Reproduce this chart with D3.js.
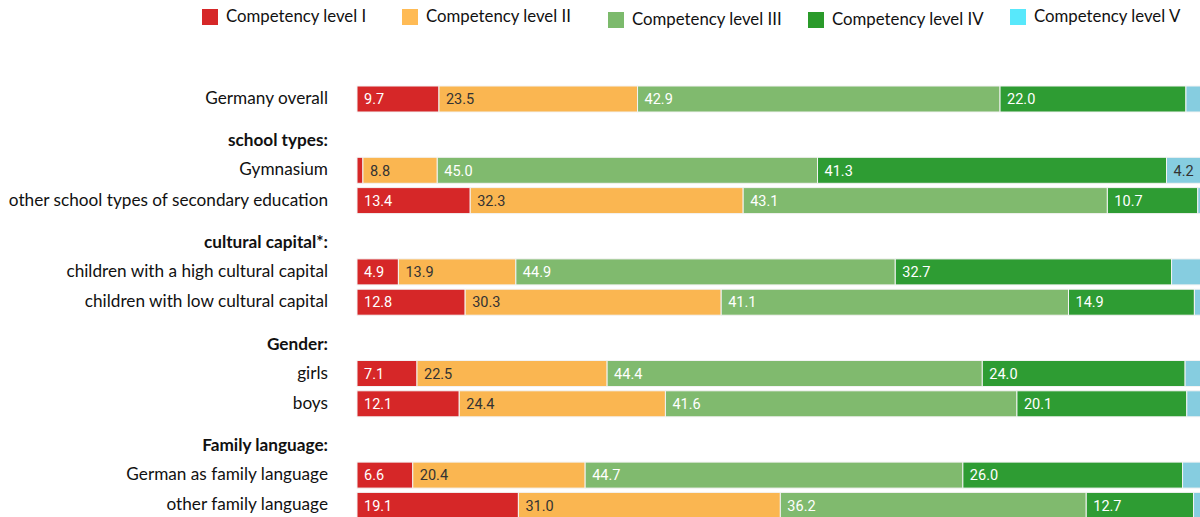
<!DOCTYPE html>
<html><head><meta charset="utf-8">
<script src="https://cdn.jsdelivr.net/npm/d3@7"></script>
<style>body{margin:0;background:#fff;overflow:hidden}</style>
</head><body>
<svg id="chart" width="1200" height="517"></svg>
<script>
const levels = ["Competency level I","Competency level II","Competency level III","Competency level IV","Competency level V"];
const barColors = ["#d62728","#fab651","#80ba6e","#2e9c33","#86cde0"];
const legendColors = ["#d62728","#ffbb55","#7cba6c","#2a9a2a","#58e8fb"];
const labelColors = ["#fff","#333","#fff","#fff","#333"];

const groups = ["", "school types:", "cultural capital*:", "Gender:", "Family language:"];
const categories = ["Germany overall","Gymnasium","other school types of secondary education","children with a high cultural capital","children with low cultural capital","girls","boys","German as family language","other family language"];
const categoryGroup = [0,1,1,2,2,3,3,4,4];
const level1 = [9.7, 0.7, 13.4, 4.9, 12.8, 7.1, 12.1, 6.6, 19.1];
const level2 = [23.5, 8.8, 32.3, 13.9, 30.3, 22.5, 24.4, 20.4, 31.0];
const level3 = [42.9, 45.0, 43.1, 44.9, 41.1, 44.4, 41.6, 44.7, 36.2];
const level4 = [22.0, 41.3, 10.7, 32.7, 14.9, 24.0, 20.1, 26.0, 12.7];
const level5 = [1.9, 4.2, 0.5, 3.6, 0.9, 2.0, 1.8, 2.3, 1.0];

const svg = d3.select("#chart");
const x = d3.scaleLinear().domain([0,100]).range([357,1202]);
const rowStep = 30.3, groupGap = 41, plotTop = 86, barH = 26;
const yRow = d3.scaleLinear().domain([0,1]).range([plotTop, plotTop+rowStep]);
const yPos = i => yRow(i) + groupGap*categoryGroup[i];

const rows = categories.map((c,i)=>({name:c, i, vals:[level1[i],level2[i],level3[i],level4[i],level5[i]]}));
const stack = d3.stack().keys([0,1,2,3,4]).value((d,k)=>d.vals[k]);
const series = stack(rows);

const leftFont = "Lato, 'Open Sans', sans-serif";

svg.append("g").selectAll("text").data(rows).join("text")
  .attr("x",328).attr("y",d=>yPos(d.i)+barH/2-1).attr("dy","0.35em")
  .attr("text-anchor","end").attr("font-family",leftFont).attr("font-size",17.2).attr("fill","#111")
  .text(d=>d.name);

const headers = groups.map((g,gi)=>({g,gi,first:categoryGroup.indexOf(gi)})).filter(d=>d.g);
svg.append("g").selectAll("text").data(headers).join("text")
  .attr("x",328).attr("y",d=>yPos(d.first)-17).attr("dy","0.35em")
  .attr("text-anchor","end").attr("font-family",leftFont).attr("font-size",17.2).attr("font-weight","bold").attr("fill","#111")
  .text(d=>d.g);

const segG = svg.append("g").selectAll("g").data(series).join("g").attr("fill",(d,k)=>barColors[k]);
segG.selectAll("rect").data(d=>d.map(p=>({p,row:p.data}))).join("rect")
  .attr("x",d=>x(d.p[0])).attr("width",d=>x(d.p[1])-x(d.p[0]))
  .attr("y",d=>yPos(d.row.i)).attr("height",barH)
  .attr("stroke","#f3f3f3").attr("stroke-width",1);

series.forEach((s,k)=>{
  svg.append("g").selectAll("text").data(s.filter(p=>p[1]-p[0]>=4)).join("text")
    .attr("x",p=>x(p[0])+7).attr("y",p=>yPos(p.data.i)+barH/2).attr("dy","0.36em")
    .attr("font-family","Roboto, sans-serif").attr("font-size",14.5).attr("fill",labelColors[k])
    .text(p=>(p[1]-p[0]).toFixed(1));
});

const legX = [202,402,608,808,1010];
const legY = [9,9,12,12,9];
const leg = svg.append("g").selectAll("g").data(levels).join("g")
  .attr("transform",(d,i)=>`translate(${legX[i]},${legY[i]})`);
leg.append("rect").attr("width",16).attr("height",16).attr("fill",(d,i)=>legendColors[i]);
leg.append("text").attr("x",24).attr("y",7).attr("dy","0.35em")
  .attr("font-family",leftFont).attr("font-size",16.8).attr("fill","#111").text(d=>d);
</script>
</body></html>
